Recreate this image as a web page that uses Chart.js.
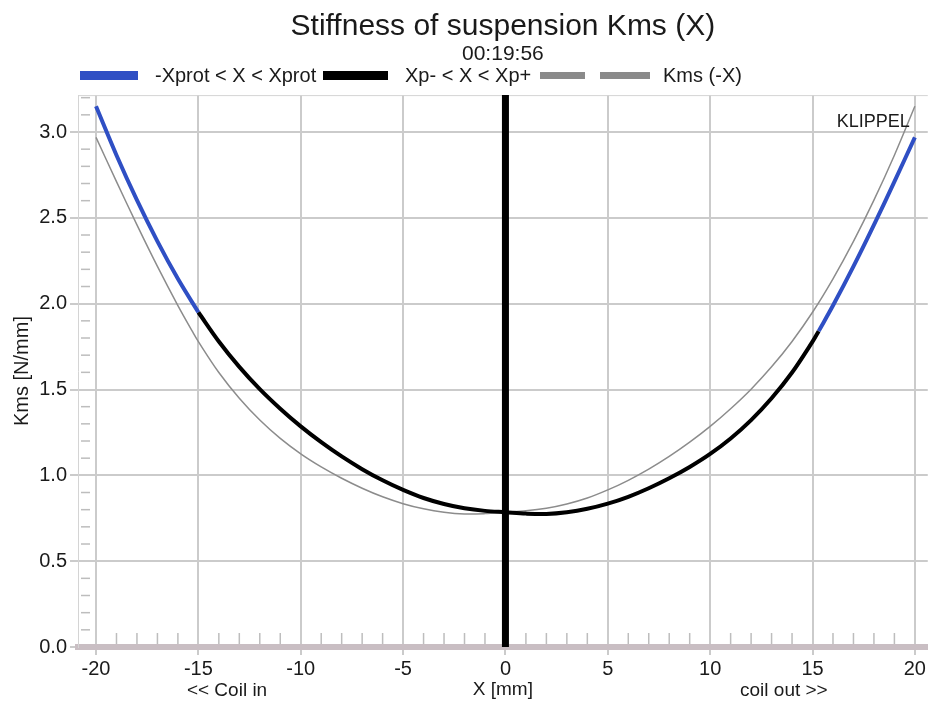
<!DOCTYPE html>
<html>
<head>
<meta charset="utf-8">
<title>Stiffness of suspension Kms (X)</title>
<script src="https://cdn.jsdelivr.net/npm/chart.js@4.4.1/dist/chart.umd.min.js"></script>
<style>
  html, body { margin: 0; padding: 0; background: #fff; }
  #wrap { width: 928px; height: 706px; }
</style>
</head>
<body>
<div id="wrap"><canvas id="kmsChart" width="928" height="706"></canvas></div>
<script>
// displacement X [mm] and measured stiffness Kms [N/mm]
const xPos = [-20, -19, -18, -17, -16, -15, -14, -13, -12, -11, -10, -9, -8, -7, -6, -5, -4, -3, -2, -1,
  0, 1, 2, 3, 4, 5, 6, 7, 8, 9, 10, 11, 12, 13, 14, 15, 15.3, 16, 17, 18, 19, 20]
const kms = [3.15, 2.865, 2.603, 2.363, 2.145, 1.95, 1.78, 1.632, 1.502, 1.388, 1.285, 1.193, 1.11, 1.036, 0.971, 0.915, 0.868, 0.833, 0.808, 0.793,
  0.785, 0.777, 0.775, 0.785, 0.805, 0.835, 0.875, 0.925, 0.983, 1.049, 1.125, 1.215, 1.322, 1.449, 1.599, 1.779, 1.84, 1.989, 2.217, 2.459, 2.711, 2.969]

// limits of the Xp range and rest position
const xpLow = -15
const xpHigh = 15.3
const restPos = 0

const xTicks = [-20, -15, -10, -5, 0, 5, 10, 15, 20]
const yTicks = [0, 0.5, 1.0, 1.5, 2.0, 2.5, 3.0]
const xRange = [-20.88, 20.63]
const yRange = [0, 3.215]

const legendLabels = ['-Xprot < X < Xprot', 'Xp- < X < Xp+', 'Kms (-X)']
const sideLabels = ['<< Coil in', 'coil out >>']
const sideLabelPos = [-13.6, 13.6]

const BLUE = '#2f4fc4'
const GRID = '#cbcbcb'
const FONT = '"Liberation Sans", Arial, Helvetica, sans-serif'

const pts = xPos.map((x, i) => ({ x: x, y: kms[i] }))
const leftProt = pts.filter(p => p.x <= xpLow)
const inner = pts.filter(p => p.x >= xpLow && p.x <= xpHigh)
const rightProt = pts.filter(p => p.x >= xpHigh)
const mirrored = pts.map(p => ({ x: -p.x, y: p.y })).reverse()

const curve = (data, color, width, order) => ({
    data: data,
    borderColor: color,
    borderWidth: width,
    pointRadius: 0,
    showLine: true,
    tension: 0.35,
    order: order
})

const line = (ctx, x1, y1, x2, y2) => {
    ctx.beginPath()
    ctx.moveTo(x1, y1)
    ctx.lineTo(x2, y2)
    ctx.stroke()
}

const decorations = {
    id: 'decorations',
    beforeDatasetsDraw(chart) {
        const { ctx, chartArea: a, scales: { x, y } } = chart
        ctx.save()
        ctx.strokeStyle = '#d4d4d4'
        ctx.lineWidth = 1
        line(ctx, a.left, a.top + 0.5, a.right, a.top + 0.5)

        // minor ticks, 1 mm and 0.1 N/mm
        ctx.strokeStyle = '#bdbdbd'
        ctx.lineWidth = 1.5
        for (let mm = -20; mm <= 20; mm++) {
            if (mm % 5 === 0) continue
            const px = x.getPixelForValue(mm)
            line(ctx, px, a.bottom - 14, px, a.bottom - 3)
        }
        for (let i = 1; i <= 32; i++) {
            if (i % 5 === 0) continue
            const py = y.getPixelForValue(i / 10)
            line(ctx, a.left + 3, py, a.left + 12, py)
        }
        ctx.restore()
    },
    afterDraw(chart) {
        const { ctx, chartArea: a, scales: { x } } = chart
        ctx.save()
        ctx.fillStyle = '#1a1a1a'
        ctx.textBaseline = 'middle'

        // legend row
        ctx.font = '20px ' + FONT
        ctx.fillStyle = BLUE
        ctx.fillRect(80, 71, 58, 9)
        ctx.fillStyle = '#000'
        ctx.fillRect(323, 71, 65, 9)
        ctx.fillStyle = '#8a8a8a'
        ctx.fillRect(540, 72, 45, 7)
        ctx.fillRect(600, 72, 50, 7)
        ctx.fillStyle = '#1a1a1a'
        ctx.textAlign = 'left'
        ctx.fillText(legendLabels[0], 155, 76)
        ctx.fillText(legendLabels[1], 405, 76)
        ctx.fillText(legendLabels[2], 663, 76)

        // direction hints under the x axis
        ctx.font = '19px ' + FONT
        ctx.textAlign = 'center'
        sideLabels.forEach((t, i) => ctx.fillText(t, x.getPixelForValue(sideLabelPos[i]), 691))

        ctx.font = '18px ' + FONT
        ctx.textAlign = 'right'
        ctx.fillText('KLIPPEL', a.right - 18, a.top + 27)
        ctx.restore()
    }
}

new Chart(document.getElementById('kmsChart'), {
    type: 'scatter',
    data: {
        datasets: [
            { data: [{ x: restPos, y: yRange[0] }, { x: restPos, y: yRange[1] }], borderColor: '#000', borderWidth: 7, pointRadius: 0, showLine: true, order: 0 },
            curve(leftProt, BLUE, 4, 1),
            curve(inner, '#000', 4, 2),
            curve(rightProt, BLUE, 4, 3),
            curve(mirrored, '#8c8c8c', 1.5, 4)
        ]
    },
    options: {
        responsive: false,
        animation: false,
        devicePixelRatio: 1,
        layout: { padding: 0 },
        plugins: {
            legend: { display: false },
            tooltip: { enabled: false },
            title: {
                display: true,
                fullSize: false,
                text: 'Stiffness of suspension Kms (X)',
                color: '#1a1a1a',
                font: { family: FONT, size: 30, weight: 'normal', lineHeight: 1.1 },
                padding: { top: 10, bottom: 0 }
            },
            subtitle: {
                display: true,
                fullSize: false,
                text: '00:19:56',
                color: '#1a1a1a',
                font: { family: FONT, size: 21, lineHeight: 1.1 },
                padding: { top: 0, bottom: 29 }
            }
        },
        scales: {
            x: {
                type: 'linear',
                min: xRange[0],
                max: xRange[1],
                afterBuildTicks: s => { s.ticks = xTicks.map(v => ({ value: v })) },
                afterFit: s => { s.height = 59 },
                ticks: { color: '#1a1a1a', font: { family: FONT, size: 20 }, padding: 2 },
                grid: { color: GRID, lineWidth: 2, tickLength: 8 },
                border: { color: '#c9bec3', width: 6 },
                title: { display: true, text: 'X [mm]', color: '#1a1a1a', font: { family: FONT, size: 19 }, padding: { top: 0, bottom: 5 } }
            },
            y: {
                min: yRange[0],
                max: yRange[1],
                afterBuildTicks: s => { s.ticks = yTicks.map(v => ({ value: v })) },
                afterFit: s => { s.width = 78 },
                ticks: { color: '#1a1a1a', font: { family: FONT, size: 20 }, padding: 3, callback: v => v.toFixed(1) },
                grid: { color: GRID, lineWidth: 2, tickLength: 8 },
                border: { color: '#d4d4d4', width: 1 },
                title: { display: true, text: 'Kms [N/mm]', color: '#1a1a1a', font: { family: FONT, size: 20 }, padding: { top: 10, bottom: 0 } }
            }
        }
    },
    plugins: [decorations]
})
</script>
</body>
</html>
